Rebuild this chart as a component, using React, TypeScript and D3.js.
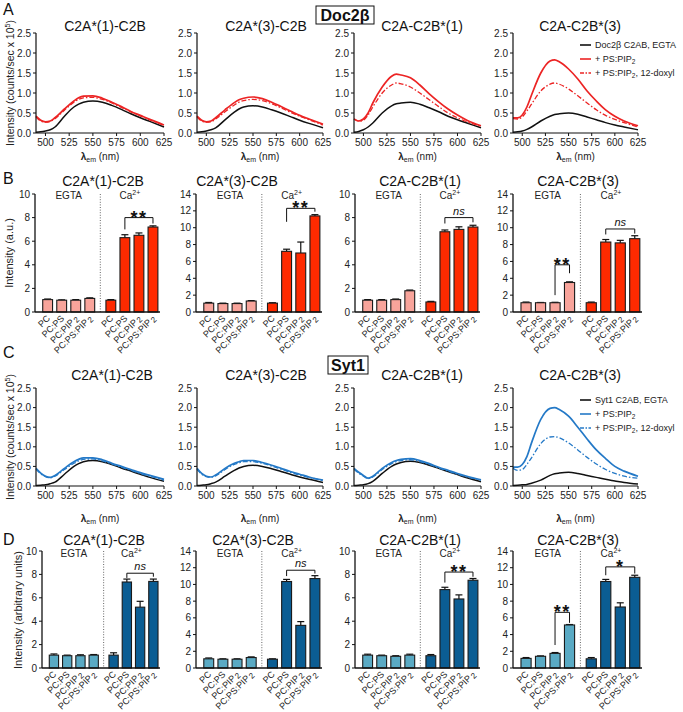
import React from 'react';
import * as d3 from 'd3';

const FONT = '"Liberation Sans", Arial, Helvetica, sans-serif';

// ---------- spectra data ----------
const WAVELENGTHS = [490, 495, 500, 505, 510, 520, 530, 535, 540, 550, 560, 570, 580, 590, 600, 610, 625];
const PANEL_TITLES = ['C2A*(1)-C2B', 'C2A*(3)-C2B', 'C2A-C2B*(1)', 'C2A-C2B*(3)'];

const DOC2B_EGTA = [
  [0.02, 0.03, 0.05, 0.08, 0.15, 0.42, 0.65, 0.72, 0.77, 0.8, 0.77, 0.69, 0.59, 0.48, 0.38, 0.29, 0.15],
  [0.02, 0.03, 0.05, 0.08, 0.13, 0.33, 0.52, 0.6, 0.65, 0.68, 0.65, 0.58, 0.5, 0.41, 0.32, 0.24, 0.13],
  [0.02, 0.04, 0.08, 0.15, 0.25, 0.5, 0.68, 0.73, 0.75, 0.77, 0.72, 0.63, 0.53, 0.42, 0.33, 0.25, 0.13],
  [0.02, 0.03, 0.05, 0.09, 0.15, 0.3, 0.42, 0.46, 0.48, 0.5, 0.47, 0.4, 0.33, 0.26, 0.2, 0.15, 0.08],
];
const DOC2B_PSPIP2 = [
  [0.42, 0.32, 0.28, 0.3, 0.38, 0.6, 0.8, 0.88, 0.92, 0.93, 0.87, 0.77, 0.66, 0.54, 0.44, 0.34, 0.2],
  [0.42, 0.32, 0.28, 0.3, 0.38, 0.58, 0.76, 0.83, 0.87, 0.9, 0.86, 0.77, 0.66, 0.55, 0.44, 0.35, 0.22],
  [0.35, 0.3, 0.35, 0.5, 0.75, 1.15, 1.42, 1.47, 1.45, 1.38, 1.2, 0.98, 0.78, 0.6, 0.45, 0.32, 0.18],
  [0.38, 0.38, 0.45, 0.65, 0.95, 1.5, 1.8, 1.83, 1.78, 1.6, 1.35, 1.05, 0.8, 0.58, 0.42, 0.3, 0.18],
];
const DOC2B_DOXYL = [
  [0.4, 0.3, 0.27, 0.29, 0.36, 0.57, 0.77, 0.84, 0.88, 0.89, 0.84, 0.75, 0.64, 0.53, 0.43, 0.33, 0.19],
  [0.4, 0.3, 0.27, 0.28, 0.35, 0.53, 0.7, 0.77, 0.81, 0.84, 0.81, 0.73, 0.63, 0.52, 0.42, 0.33, 0.2],
  [0.35, 0.3, 0.32, 0.45, 0.65, 1.0, 1.2, 1.25, 1.23, 1.15, 1.0, 0.83, 0.66, 0.5, 0.38, 0.28, 0.17],
  [0.36, 0.35, 0.4, 0.55, 0.72, 1.05, 1.22, 1.25, 1.22, 1.1, 0.93, 0.75, 0.58, 0.44, 0.34, 0.26, 0.15],
];
const SYT1_EGTA = [
  [0.01, 0.02, 0.03, 0.06, 0.1, 0.3, 0.5, 0.57, 0.62, 0.65, 0.62, 0.55, 0.46, 0.38, 0.3, 0.22, 0.12],
  [0.01, 0.02, 0.03, 0.06, 0.1, 0.25, 0.4, 0.46, 0.5, 0.53, 0.5, 0.44, 0.37, 0.3, 0.23, 0.17, 0.09],
  [0.01, 0.02, 0.03, 0.06, 0.12, 0.32, 0.5, 0.56, 0.6, 0.63, 0.6, 0.53, 0.45, 0.37, 0.29, 0.21, 0.11],
  [0.01, 0.02, 0.03, 0.04, 0.07, 0.15, 0.27, 0.31, 0.33, 0.35, 0.32, 0.27, 0.22, 0.17, 0.13, 0.09, 0.05],
];
const SYT1_PSPIP2 = [
  [0.45, 0.33, 0.25, 0.22, 0.27, 0.45, 0.62, 0.68, 0.72, 0.72, 0.67, 0.58, 0.5, 0.42, 0.34, 0.27, 0.17],
  [0.45, 0.32, 0.25, 0.23, 0.28, 0.45, 0.58, 0.62, 0.65, 0.65, 0.6, 0.53, 0.45, 0.37, 0.3, 0.23, 0.15],
  [0.45, 0.35, 0.27, 0.2, 0.25, 0.45, 0.6, 0.65, 0.68, 0.7, 0.65, 0.57, 0.48, 0.4, 0.32, 0.25, 0.16],
  [0.48, 0.48, 0.55, 0.75, 1.1, 1.7, 1.98, 2.0, 1.95, 1.78, 1.5, 1.2, 0.92, 0.7, 0.5, 0.38, 0.25],
];
const SYT1_DOXYL = [
  [0.43, 0.31, 0.24, 0.21, 0.25, 0.42, 0.58, 0.64, 0.68, 0.69, 0.64, 0.56, 0.48, 0.4, 0.32, 0.25, 0.15],
  [0.43, 0.3, 0.24, 0.22, 0.26, 0.42, 0.55, 0.59, 0.62, 0.62, 0.58, 0.51, 0.43, 0.35, 0.28, 0.22, 0.14],
  [0.43, 0.33, 0.25, 0.19, 0.23, 0.42, 0.57, 0.62, 0.65, 0.67, 0.62, 0.55, 0.46, 0.38, 0.3, 0.23, 0.15],
  [0.45, 0.4, 0.42, 0.55, 0.72, 1.08, 1.25, 1.26, 1.23, 1.1, 0.92, 0.73, 0.56, 0.42, 0.32, 0.25, 0.2],
];
const SPEC_XTICKS = [500, 525, 550, 575, 600, 625];
const SPEC_YTICKS = [0, 0.5, 1.0, 1.5, 2.0, 2.5];

// ---------- bar data ----------
const BAR_CATEGORIES = ['PC', 'PC:PS', 'PC:PIP2', 'PC:PS:PIP2'];
const BAR_YMAX = [10, 14, 10, 14];
const DOC2B_BAR_MEANS = [
  [1.05, 1.0, 1.0, 1.15, 1.0, 6.3, 6.5, 7.2],
  [1.05, 1.0, 1.0, 1.3, 1.05, 7.2, 7.0, 11.4],
  [1.0, 1.0, 1.05, 1.8, 0.85, 6.8, 7.0, 7.2],
  [1.1, 1.1, 1.1, 3.5, 1.1, 8.3, 8.2, 8.7],
];
const DOC2B_BAR_ERRS = [
  [0.05, 0.03, 0.05, 0.05, 0.05, 0.25, 0.2, 0.1],
  [0.08, 0.05, 0.05, 0.05, 0.05, 0.25, 1.3, 0.15],
  [0.05, 0.05, 0.05, 0.06, 0.05, 0.15, 0.22, 0.15],
  [0.08, 0.03, 0.05, 0.08, 0.08, 0.3, 0.3, 0.35],
];
const SYT1_BAR_MEANS = [
  [1.1, 1.05, 1.05, 1.1, 1.1, 7.35, 5.2, 7.4],
  [1.1, 1.05, 1.05, 1.25, 1.05, 10.35, 5.1, 10.7],
  [1.1, 1.05, 1.0, 1.1, 1.05, 6.7, 5.9, 7.5],
  [1.15, 1.4, 1.75, 5.15, 1.1, 10.35, 7.3, 10.85],
];
const SYT1_BAR_ERRS = [
  [0.1, 0.05, 0.08, 0.05, 0.2, 0.25, 0.5, 0.2],
  [0.1, 0.05, 0.05, 0.08, 0.05, 0.25, 0.45, 0.35],
  [0.08, 0.05, 0.05, 0.08, 0.1, 0.2, 0.35, 0.15],
  [0.1, 0.05, 0.1, 0.05, 0.15, 0.25, 0.5, 0.25],
];
// significance brackets: bars a..b, bracket level, leg ends, label
const DOC2B_SIG = [
  [{ a: 5, b: 7, y: 8.0, la: 7.0, lb: 7.5, label: '**' }],
  [{ a: 5, b: 7, y: 12.3, la: 10.7, lb: 11.9, label: '**' }],
  [{ a: 5, b: 7, y: 8.0, la: 7.5, lb: 7.6, label: 'ns' }],
  [{ a: 2, b: 3, y: 5.6, la: 2.0, lb: 4.6, label: '**' }, { a: 5, b: 7, y: 9.85, la: 9.2, lb: 9.3, label: 'ns' }],
];
const SYT1_SIG = [
  [{ a: 5, b: 7, y: 8.1, la: 7.7, lb: 7.8, label: 'ns' }],
  [{ a: 5, b: 7, y: 11.7, la: 11.0, lb: 11.3, label: 'ns' }],
  [{ a: 5, b: 7, y: 8.2, la: 7.3, lb: 7.8, label: '**' }],
  [{ a: 2, b: 3, y: 6.66, la: 2.75, lb: 5.4, label: '**' }, { a: 5, b: 7, y: 12.1, la: 11.1, lb: 11.3, label: '*' }],
];

// ---------- layout ----------
const SPEC_XR = [[36, 164], [197, 323], [354, 481], [513, 638]];
const BARB_XR = [[35, 160], [196, 322], [355, 480], [513, 642]];
const BARD_XR = [[42, 160], [196, 322], [355, 480], [513, 642]];
const TITLE_X_A = [105, 266, 422, 580];
const TITLE_X_B = [103, 237, 420, 578];
const TITLE_X_C = [112, 266, 422, 580];
const TITLE_X_D = [104, 253, 420, 578];
const SLOTS = [0, 1, 2, 3, 4.5, 5.5, 6.5, 7.5];

const RED = '#ec2424';
const BLUE = '#2479c7';
const DOC_LIGHT = '#f8a49b';
const DOC_DARK = '#fe2a00';
const SYT_LIGHT = '#5aaac4';
const SYT_DARK = '#0b5d93';

function CatLabel({ s }: { s: string }) {
  if (s.endsWith('PIP2')) {
    return (
      <>
        <tspan>{s.slice(0, -1)}</tspan>
        <tspan dx={1} dy={1.5} fontSize={8}>2</tspan>
      </>
    );
  }
  return <tspan>{s}</tspan>;
}

function LegendRows({ x, ys, color, name }: { x: number; ys: number[]; color: string; name: string }) {
  return (
    <g fontSize={9} fill="#222">
      <line x1={x} x2={x + 11} y1={ys[0]} y2={ys[0]} stroke="#111" strokeWidth={1.6} />
      <text x={x + 15} y={ys[0] + 3.3}>{name}</text>
      <line x1={x} x2={x + 11} y1={ys[1]} y2={ys[1]} stroke={color} strokeWidth={1.6} />
      <text x={x + 15} y={ys[1] + 3.3}>+ PS:PIP<tspan dy={2} fontSize={6.5}>2</tspan></text>
      <line x1={x} x2={x + 11} y1={ys[2]} y2={ys[2]} stroke={color} strokeWidth={1.4} strokeDasharray="4,1.5,1.5,1.5" />
      <text x={x + 15} y={ys[2] + 3.3}>+ PS:PIP<tspan dy={2} fontSize={6.5}>2</tspan><tspan dy={-2}>, 12-doxyl</tspan></text>
    </g>
  );
}

function Spectra({ xr, y0, y1, egta, pip, doxyl, color, title, titleX, titleY, xLabelY }: any) {
  const x = d3.scaleLinear().domain([490, 625]).range(xr);
  const y = d3.scaleLinear().domain([0, 2.5]).range([y0, y1]);
  const line = d3.line<number>()
    .x((_, i) => x(WAVELENGTHS[i]))
    .y((d) => y(d))
    .curve(d3.curveMonotoneX);
  const cx = (xr[0] + xr[1]) / 2;
  return (
    <g>
      <text x={titleX} y={titleY} fontSize={14} textAnchor="middle" fill="#111">{title}</text>
      <path d={line(egta) || ''} fill="none" stroke="#111" strokeWidth={1.5} />
      <path d={line(doxyl) || ''} fill="none" stroke={color} strokeWidth={1.3} strokeDasharray="5,2,1.5,2" />
      <path d={line(pip) || ''} fill="none" stroke={color} strokeWidth={1.7} />
      <line x1={xr[0]} x2={xr[0]} y1={y1} y2={y0} stroke="#111" strokeWidth={1.2} />
      <line x1={xr[0]} x2={xr[1]} y1={y0} y2={y0} stroke="#111" strokeWidth={1.2} />
      {SPEC_YTICKS.map((t) => (
        <g key={t}>
          <line x1={xr[0] - 3} x2={xr[0]} y1={y(t)} y2={y(t)} stroke="#111" />
          <text x={xr[0] - 5} y={y(t) + 3.5} fontSize={10} textAnchor="end" fill="#222">{t.toFixed(1)}</text>
        </g>
      ))}
      {SPEC_XTICKS.map((t) => (
        <g key={t}>
          <line x1={x(t)} x2={x(t)} y1={y0} y2={y0 + 3} stroke="#111" />
          <text x={x(t)} y={y0 + 13} fontSize={10} textAnchor="middle" fill="#222">{t}</text>
        </g>
      ))}
      <text x={cx} y={xLabelY} fontSize={10} textAnchor="middle" fill="#222">
        <tspan fontWeight="bold">λ</tspan><tspan dy={2} fontSize={7}>em</tspan><tspan dy={-2}> (nm)</tspan>
      </text>
    </g>
  );
}

function Bars({ xr, y0, y1, ymax, means, errs, light, dark, title, titleX, titleY, sig, catY }: any) {
  const x = d3.scaleLinear().domain([-0.9, 8.0]).range(xr);
  const y = d3.scaleLinear().domain([0, ymax]).range([y0, y1]);
  const bw = (x(1) - x(0)) * 0.7;
  const ticks = d3.range(0, ymax + 1, 2);
  const egtaX = (x(SLOTS[0]) + x(SLOTS[3])) / 2;
  const caX = (x(SLOTS[4]) + x(SLOTS[7])) / 2;
  return (
    <g>
      <text x={titleX} y={titleY} fontSize={14} textAnchor="middle" fill="#111">{title}</text>
      <text x={egtaX} y={catY} fontSize={10} textAnchor="middle" fill="#222">EGTA</text>
      <text x={caX - 2} y={catY} fontSize={10} textAnchor="middle" fill="#222">Ca<tspan dy={-4} fontSize={7}>2+</tspan></text>
      <line x1={x(3.75)} x2={x(3.75)} y1={y1} y2={y0} stroke="#666" strokeWidth={1} strokeDasharray="1,1.6" />
      {means.map((m: number, i: number) => {
        const bx = x(SLOTS[i]);
        return (
          <g key={i}>
            <line x1={bx} x2={bx} y1={y(m)} y2={y(m + errs[i])} stroke="#111" strokeWidth={1.2} />
            <line x1={bx - 3.5} x2={bx + 3.5} y1={y(m + errs[i])} y2={y(m + errs[i])} stroke="#111" strokeWidth={1.2} />
            <rect x={bx - bw / 2} y={y(m)} width={bw} height={y0 - y(m)} fill={i < 4 ? light : dark} stroke="#1a1a1a" strokeWidth={1.1} />
          </g>
        );
      })}
      {sig.map((s: any, k: number) => {
        const xa = x(SLOTS[s.a]);
        const xb = x(SLOTS[s.b]);
        const yy = y(s.y);
        const isNs = s.label === 'ns';
        return (
          <g key={k}>
            <path d={`M${xa},${y(s.la)}V${yy}H${xb}V${y(s.lb)}`} fill="none" stroke="#111" strokeWidth={1} />
            {isNs ? (
              <text x={(xa + xb) / 2} y={yy - 3} fontSize={11} fontStyle="italic" textAnchor="middle" fill="#111">ns</text>
            ) : (
              <text x={(xa + xb) / 2} y={yy + 6} fontSize={18} fontWeight="bold" letterSpacing={1.5} textAnchor="middle" fill="#111">{s.label}</text>
            )}
          </g>
        );
      })}
      <line x1={xr[0]} x2={xr[0]} y1={y1} y2={y0} stroke="#111" strokeWidth={1.3} />
      <line x1={xr[0]} x2={xr[1]} y1={y0} y2={y0} stroke="#111" strokeWidth={1.3} />
      {ticks.map((t) => (
        <g key={t}>
          <line x1={xr[0] - 3} x2={xr[0]} y1={y(t)} y2={y(t)} stroke="#111" />
          <text x={xr[0] - 5} y={y(t) + 3.5} fontSize={10} textAnchor="end" fill="#222">{t}</text>
        </g>
      ))}
      {SLOTS.map((sl, i) => {
        const bx = x(sl);
        return (
          <text key={i} x={bx + 3} y={y0 + 7} fontSize={9} textAnchor="end" fill="#222"
            transform={`rotate(-45 ${bx + 3} ${y0 + 7})`}>
            <CatLabel s={BAR_CATEGORIES[i % 4]} />
          </text>
        );
      })}
    </g>
  );
}

export default function App() {
  return (
    <svg width={683} height={712} viewBox="0 0 683 712" style={{ position: 'absolute', left: 0, top: 0, background: '#fff' }} fontFamily={FONT}>
      <rect width={683} height={712} fill="#fff" />
      {/* Panel letters */}
      <text x={3} y={15} fontSize={16} fill="#111">A</text>
      <text x={3} y={184} fontSize={16} fill="#111">B</text>
      <text x={3} y={358} fontSize={16} fill="#111">C</text>
      <text x={3} y={545} fontSize={16} fill="#111">D</text>

      {/* Protein boxes */}
      <rect x={316} y={6} width={58} height={18} fill="#fff" stroke="#111" strokeWidth={1} />
      <text x={345} y={21} fontSize={16} fontWeight="bold" textAnchor="middle" fill="#111">Doc2β</text>
      <rect x={328} y={356} width={40} height={18} fill="#fff" stroke="#111" strokeWidth={1} />
      <text x={348} y={371} fontSize={16} fontWeight="bold" textAnchor="middle" fill="#111">Syt1</text>

      {/* Y axis labels */}
      <text transform="translate(14,83) rotate(-90)" fontSize={10.5} textAnchor="middle" fill="#222">
        Intensity (counts/sec x 10<tspan dy={-4} fontSize={7}>5</tspan><tspan dy={4}>)</tspan>
      </text>
      <text transform="translate(13,253) rotate(-90)" fontSize={11} textAnchor="middle" fill="#222">Intensity (a.u.)</text>
      <text transform="translate(14,437) rotate(-90)" fontSize={10.5} textAnchor="middle" fill="#222">
        Intensity (counts/sec x 10<tspan dy={-4} fontSize={7}>5</tspan><tspan dy={4}>)</tspan>
      </text>
      <text transform="translate(22,610) rotate(-90)" fontSize={11} textAnchor="middle" fill="#222">Intensity (arbitrary units)</text>

      {/* A: Doc2β spectra */}
      {PANEL_TITLES.map((t, i) => (
        <Spectra key={'A' + i} xr={SPEC_XR[i]} y0={133} y1={33}
          egta={DOC2B_EGTA[i]} pip={DOC2B_PSPIP2[i]} doxyl={DOC2B_DOXYL[i]} color={RED}
          title={t} titleX={TITLE_X_A[i]} titleY={31} xLabelY={160} />
      ))}
      <LegendRows x={580} ys={[45, 59, 73]} color={RED} name="Doc2β C2AB, EGTA" />

      {/* B: Doc2β bars */}
      {PANEL_TITLES.map((t, i) => (
        <Bars key={'B' + i} xr={BARB_XR[i]} y0={312} y1={194} ymax={BAR_YMAX[i]}
          means={DOC2B_BAR_MEANS[i]} errs={DOC2B_BAR_ERRS[i]} light={DOC_LIGHT} dark={DOC_DARK}
          title={t} titleX={TITLE_X_B[i]} titleY={186} sig={DOC2B_SIG[i]} catY={199} />
      ))}

      {/* C: Syt1 spectra */}
      {PANEL_TITLES.map((t, i) => (
        <Spectra key={'C' + i} xr={SPEC_XR[i]} y0={486} y1={388}
          egta={SYT1_EGTA[i]} pip={SYT1_PSPIP2[i]} doxyl={SYT1_DOXYL[i]} color={BLUE}
          title={t} titleX={TITLE_X_C[i]} titleY={380} xLabelY={522} />
      ))}
      <LegendRows x={580} ys={[400, 414, 428]} color={BLUE} name="Syt1 C2AB, EGTA" />

      {/* D: Syt1 bars */}
      {PANEL_TITLES.map((t, i) => (
        <Bars key={'D' + i} xr={BARD_XR[i]} y0={668} y1={551} ymax={BAR_YMAX[i]}
          means={SYT1_BAR_MEANS[i]} errs={SYT1_BAR_ERRS[i]} light={SYT_LIGHT} dark={SYT_DARK}
          title={t} titleX={TITLE_X_D[i]} titleY={545} sig={SYT1_SIG[i]} catY={557} />
      ))}
    </svg>
  );
}
